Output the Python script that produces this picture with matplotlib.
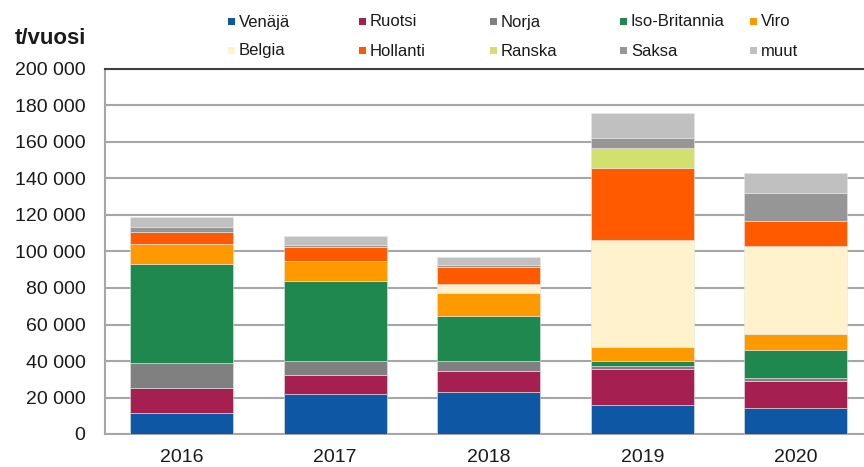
import matplotlib.pyplot as plt
import numpy as np
from matplotlib.ticker import FuncFormatter
from matplotlib.patches import Rectangle

plt.rcParams['font.family'] = ['Liberation Sans', 'DejaVu Sans']

years = ["2016", "2017", "2018", "2019", "2020"]
countries = ["Venäjä", "Ruotsi", "Norja", "Iso-Britannia", "Viro",
             "Belgia", "Hollanti", "Ranska", "Saksa", "muut"]
colors = ["#0E57A4", "#A52050", "#808080", "#1F884E", "#FF9900",
          "#FFF2CC", "#FF5A00", "#D4E06E", "#969696", "#C0C0C0"]

# t/vuosi per country, one value per year 2016..2020
venaja = [11700, 21900, 22800, 15900, 14100]
ruotsi = [13700, 10400, 11900, 19700, 14800]
norja = [13700, 7500, 5100, 1800, 1800]
iso_britannia = [54100, 44000, 25000, 2400, 15200]
viro = [11100, 11000, 12300, 7900, 8700]
belgia = [0, 0, 4900, 58400, 48200]
hollanti = [6200, 7800, 9700, 39500, 13700]
ranska = [0, 0, 0, 11300, 0]
saksa = [3100, 1000, 900, 5100, 15400]
muut = [5500, 5100, 4200, 13700, 11100]

series = [venaja, ruotsi, norja, iso_britannia, viro,
          belgia, hollanti, ranska, saksa, muut]

W, H = 864, 467
fig = plt.figure(figsize=(W / 100, H / 100), dpi=100)
ax = fig.add_axes([105 / W, 1 - 434 / H, 767.5 / W, 365 / H])

x = np.arange(len(years))
bottom = np.zeros(len(years))
for name, vals, col in zip(countries, series, colors):
    vals = np.array(vals)
    ax.bar(x, vals, 0.67, bottom=bottom, color=col, edgecolor="#e6e6e6",
           linewidth=0.4, zorder=3, label=name)
    bottom += vals

ax.set_xlim(-0.5, len(years) - 0.5)
ax.set_ylim(0, 200000)
ax.set_yticks(np.arange(0, 200001, 20000))
ax.yaxis.set_major_formatter(FuncFormatter(lambda v, p: f"{v:,.0f}".replace(",", " ")))
ax.set_xticks(x)
ax.set_xticklabels(years)
ax.tick_params(axis="y", length=0, pad=14, labelsize=14, colors="#1a1a1a")
ax.tick_params(axis="x", length=0, pad=11, labelsize=14, colors="#1a1a1a")

ax.grid(axis="y", color="#a6a6a6", linewidth=1.5, zorder=0)
for s in ["left", "bottom"]:
    ax.spines[s].set_color("#a6a6a6")
    ax.spines[s].set_linewidth(1.5)
ax.spines["top"].set_color("#404040")
ax.spines["top"].set_linewidth(1.5)
ax.spines["right"].set_visible(False)

fig.text(15 / W, 1 - 38 / H, "t/vuosi", fontsize=16, fontweight="bold",
         va="center", ha="left", color="#1a1a1a")

# legend: 5 columns x 2 rows, laid out by hand
col_x = [228, 359, 490, 620, 750]
row_y = [21, 50]
for i, (name, col) in enumerate(zip(countries, colors)):
    px = col_x[i % 5]
    py = row_y[i // 5]
    fig.patches.append(Rectangle((px / W, 1 - (py + 3.5) / H), 7 / W, 7 / H,
                                 transform=fig.transFigure, facecolor=col,
                                 edgecolor="none"))
    fig.text((px + 11) / W, 1 - (py + 5.5) / H, name, fontsize=12,
             va="baseline", ha="left", color="#1a1a1a")

fig.savefig("out.png", dpi=100)
